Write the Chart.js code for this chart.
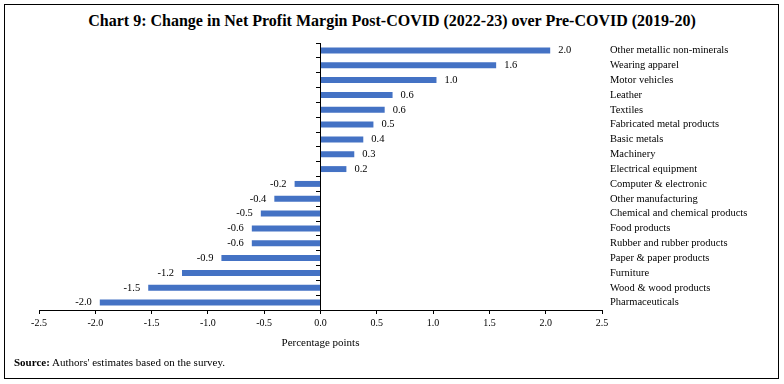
<!DOCTYPE html>
<html lang="en">
<head>
    <meta charset="UTF-8">
    <title>Chart 9: Change in Net Profit Margin</title>
    <script src="https://cdn.jsdelivr.net/npm/chart.js@4.4.1/dist/chart.umd.min.js"></script>
    <style>
        body {
            margin: 0;
            width: 784px;
            height: 384px;
            background: #fff;
            font-family: "Liberation Serif", serif;
            position: relative;
            overflow: hidden;
        }

        .frame {
            position: absolute;
            left: 4px;
            top: 4px;
            width: 773px;
            height: 373px;
            border: 1.5px solid #000;
        }

        .chart-title {
            position: absolute;
            left: 0;
            top: 11px;
            width: 784px;
            text-align: center;
            font-weight: bold;
            font-size: 16px;
            line-height: 20px;
            color: #000;
        }

        .source {
            position: absolute;
            left: 14px;
            top: 355px;
            font-size: 11px;
            line-height: 14px;
            color: #000;
        }

        #chart {
            position: absolute;
            left: 0;
            top: 0;
        }
    </style>
</head>
<body>
    <div class="frame"></div>
    <div class="chart-title">Chart 9: Change in Net Profit Margin Post-COVID (2022-23) over Pre-COVID (2019-20)</div>
    <canvas id="chart" width="784" height="384"></canvas>
    <div class="source"><b>Source:</b> Authors' estimates based on the survey.</div>

    <script>
        // industries, top to bottom
        const industries = [
            'Other metallic non-minerals', 'Wearing apparel', 'Motor vehicles', 'Leather',
            'Textiles', 'Fabricated metal products', 'Basic metals', 'Machinery',
            'Electrical equipment', 'Computer & electronic', 'Other manufacturing',
            'Chemical and chemical products', 'Food products', 'Rubber and rubber products',
            'Paper & paper products', 'Furniture', 'Wood & wood products', 'Pharmaceuticals'
        ];
        // change in net profit margin, percentage points
        const changePP = [2.04, 1.56, 1.03, 0.64, 0.57, 0.47, 0.38, 0.30, 0.23,
            -0.23, -0.41, -0.53, -0.61, -0.61, -0.88, -1.23, -1.53, -1.96];
        const xTicks = [-2.5, -2.0, -1.5, -1.0, -0.5, 0.0, 0.5, 1.0, 1.5, 2.0, 2.5];

        const serif = '"Liberation Serif", serif';

        // value labels at the bar ends
        const barLabels = {
            id: 'barLabels',
            afterDatasetsDraw(chart) {
                const ctx = chart.ctx;
                const meta = chart.getDatasetMeta(0);
                ctx.save();
                ctx.font = '10.5px ' + serif;
                ctx.fillStyle = '#000';
                ctx.textBaseline = 'middle';
                meta.data.forEach(function (bar, i) {
                    const v = changePP[i];
                    if (v >= 0) {
                        ctx.textAlign = 'left';
                        ctx.fillText(v.toFixed(1), bar.x + 8, bar.y);
                    } else {
                        ctx.textAlign = 'right';
                        ctx.fillText(v.toFixed(1), bar.x - 8, bar.y);
                    }
                });
                ctx.restore();
            }
        };

        const ctx = document.getElementById('chart').getContext('2d');
        const chart = new Chart(ctx, {
            type: 'bar',
            data: {
                labels: industries,
                datasets: [{
                    data: changePP,
                    backgroundColor: '#4472c4',
                    borderWidth: 0,
                    barPercentage: 0.4,
                    categoryPercentage: 1.0
                }]
            },
            options: {
                indexAxis: 'y',
                responsive: false,
                animation: false,
                devicePixelRatio: 1,
                layout: {
                    padding: { left: 39, right: 12, top: 43, bottom: 30 }
                },
                plugins: {
                    legend: { display: false },
                    tooltip: { enabled: false }
                },
                scales: {
                    x: {
                        type: 'linear',
                        min: -2.5,
                        max: 2.5,
                        afterBuildTicks: function (scale) {
                            scale.ticks = xTicks.map(function (v) { return { value: v }; });
                        },
                        afterFit: function (scale) { scale.height = 44; },
                        grid: { drawOnChartArea: false, color: '#000', tickLength: 4 },
                        border: { color: '#000', width: 1 },
                        ticks: {
                            color: '#000',
                            font: { family: serif, size: 10 },
                            padding: 3,
                            maxRotation: 0,
                            callback: function (v) { return Number(v).toFixed(1); }
                        },
                        title: {
                            display: true,
                            text: 'Percentage points',
                            color: '#000',
                            font: { family: serif, size: 11 },
                            padding: { top: 4, bottom: 4 }
                        }
                    },
                    y: {
                        position: { x: 0 },
                        afterFit: function (scale) { scale.width = 0; },
                        grid: { drawOnChartArea: false, color: '#000', tickLength: 4 },
                        border: { color: '#000', width: 1 },
                        ticks: { display: false }
                    },
                    yLabels: {
                        type: 'category',
                        axis: 'y',
                        labels: industries,
                        position: 'right',
                        offset: true,
                        afterFit: function (scale) { scale.width = 170; },
                        grid: { display: false, drawTicks: false },
                        border: { display: false },
                        ticks: {
                            color: '#000',
                            font: { family: serif, size: 10.5 },
                            padding: 8,
                            autoSkip: false
                        }
                    }
                }
            },
            plugins: [barLabels]
        });
    </script>
</body>
</html>
